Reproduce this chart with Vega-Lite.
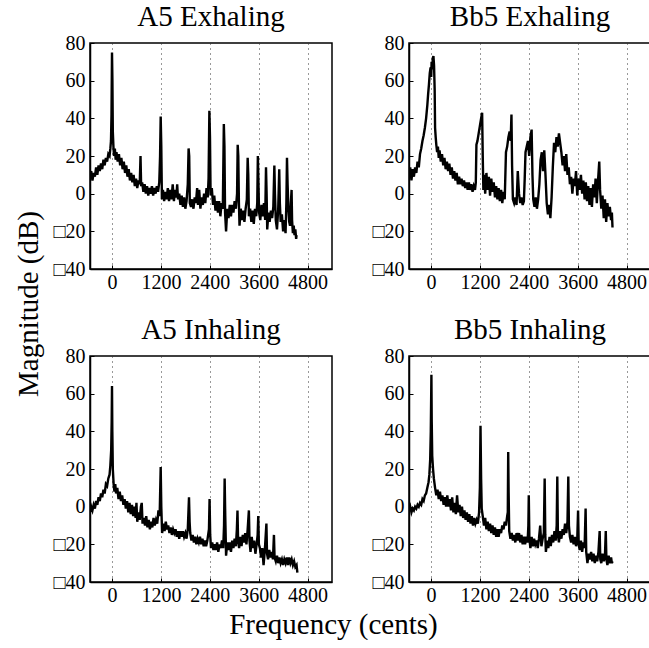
{
  "$schema": "https://vega.github.io/schema/vega-lite/v6.json",
  "background": "white",
  "padding": {"left": 15, "top": 2, "right": 0, "bottom": 0},
  "config": {
    "font": "Liberation Serif",
    "view": {"stroke": "black", "strokeWidth": 1.5},
    "axis": {"labelFont": "Liberation Serif", "labelFontSize": 20, "labelColor": "black", "domainColor": "black", "domainWidth": 1.5, "tickColor": "black", "tickSize": -4, "tickWidth": 1, "ticks": true, "labelPadding": 9, "labelFlush": false, "labelOverlap": false},
    "axisX": {"grid": true, "gridColor": "#333333", "gridDash": [1, 4], "gridWidth": 1, "labelPadding": 7, "format": "d"},
    "axisY": {"grid": false},
    "title": {"font": "Liberation Serif", "fontSize": 29, "fontWeight": "normal", "color": "black", "anchor": "middle", "offset": 1},
    "concat": {"spacing": 40}
  },
  "title": {"text": "Frequency (cents)", "orient": "bottom", "anchor": "middle", "fontSize": 29, "offset": 5},
  "datasets": {
    "ae": [
      {"c":-540,"m":8},{"c":-510,"m":12},{"c":-480,"m":7},{"c":-450,"m":11},{"c":-420,"m":9},{"c":-390,"m":14},{"c":-360,"m":10},{"c":-330,"m":15},{"c":-300,"m":12},{"c":-270,"m":16},{"c":-240,"m":13},{"c":-210,"m":18},{"c":-180,"m":15},{"c":-150,"m":19},{"c":-120,"m":17},{"c":-90,"m":21},{"c":-60,"m":20},{"c":-40,"m":24},{"c":-25,"m":28},{"c":-12,"m":42},{"c":0,"m":75},{"c":10,"m":60},{"c":20,"m":33},{"c":35,"m":25},{"c":50,"m":20},{"c":70,"m":24},{"c":90,"m":18},{"c":110,"m":22},{"c":140,"m":17},{"c":170,"m":21},{"c":200,"m":15},{"c":230,"m":19},{"c":260,"m":13},{"c":290,"m":17},{"c":320,"m":11},{"c":350,"m":15},{"c":380,"m":9},{"c":410,"m":13},{"c":440,"m":7},{"c":470,"m":11},{"c":500,"m":6},{"c":530,"m":10},{"c":560,"m":4},{"c":590,"m":8},{"c":620,"m":3},{"c":650,"m":7},{"c":680,"m":5},{"c":700,"m":20},{"c":715,"m":4},{"c":740,"m":6},{"c":770,"m":1},{"c":800,"m":5},{"c":830,"m":0},{"c":860,"m":4},{"c":890,"m":-1},{"c":920,"m":3},{"c":950,"m":0},{"c":980,"m":4},{"c":1010,"m":-1},{"c":1040,"m":3},{"c":1070,"m":0},{"c":1100,"m":4},{"c":1130,"m":1},{"c":1160,"m":6},{"c":1180,"m":20},{"c":1195,"m":41},{"c":1210,"m":25},{"c":1225,"m":-3},{"c":1250,"m":2},{"c":1280,"m":-4},{"c":1310,"m":1},{"c":1340,"m":-3},{"c":1370,"m":3},{"c":1400,"m":-4},{"c":1430,"m":2},{"c":1460,"m":-3},{"c":1490,"m":5},{"c":1520,"m":-4},{"c":1550,"m":2},{"c":1580,"m":-2},{"c":1600,"m":5},{"c":1620,"m":-3},{"c":1650,"m":0},{"c":1680,"m":-6},{"c":1710,"m":-1},{"c":1740,"m":-7},{"c":1770,"m":-2},{"c":1800,"m":-8},{"c":1830,"m":-4},{"c":1860,"m":5},{"c":1880,"m":24},{"c":1895,"m":20},{"c":1910,"m":-5},{"c":1940,"m":-7},{"c":1970,"m":-3},{"c":2000,"m":-8},{"c":2030,"m":-2},{"c":2060,"m":-5},{"c":2090,"m":3},{"c":2110,"m":-6},{"c":2140,"m":2},{"c":2170,"m":-8},{"c":2200,"m":-2},{"c":2230,"m":-6},{"c":2260,"m":0},{"c":2290,"m":-5},{"c":2320,"m":3},{"c":2350,"m":-2},{"c":2370,"m":8},{"c":2390,"m":44},{"c":2405,"m":30},{"c":2420,"m":-1},{"c":2450,"m":3},{"c":2480,"m":-6},{"c":2510,"m":-1},{"c":2540,"m":-9},{"c":2570,"m":-4},{"c":2600,"m":-10},{"c":2630,"m":-4},{"c":2660,"m":-12},{"c":2690,"m":-5},{"c":2720,"m":-8},{"c":2745,"m":37},{"c":2760,"m":25},{"c":2775,"m":-10},{"c":2800,"m":-20},{"c":2830,"m":-8},{"c":2860,"m":-13},{"c":2890,"m":-6},{"c":2920,"m":-12},{"c":2950,"m":-6},{"c":2980,"m":-10},{"c":3010,"m":-4},{"c":3040,"m":-8},{"c":3070,"m":0},{"c":3085,"m":26},{"c":3100,"m":20},{"c":3115,"m":-5},{"c":3130,"m":-17},{"c":3160,"m":-8},{"c":3190,"m":-14},{"c":3220,"m":-9},{"c":3250,"m":-15},{"c":3280,"m":-8},{"c":3310,"m":-3},{"c":3330,"m":19},{"c":3345,"m":10},{"c":3360,"m":-12},{"c":3390,"m":-8},{"c":3420,"m":-15},{"c":3450,"m":-9},{"c":3480,"m":-16},{"c":3510,"m":-8},{"c":3540,"m":-12},{"c":3565,"m":-5},{"c":3580,"m":20},{"c":3595,"m":5},{"c":3610,"m":-10},{"c":3640,"m":-14},{"c":3670,"m":-6},{"c":3700,"m":-12},{"c":3730,"m":-5},{"c":3760,"m":-14},{"c":3780,"m":14},{"c":3795,"m":0},{"c":3810,"m":-19},{"c":3840,"m":-10},{"c":3870,"m":-15},{"c":3900,"m":-9},{"c":3930,"m":-13},{"c":3960,"m":-7},{"c":3985,"m":15},{"c":4000,"m":0},{"c":4020,"m":-14},{"c":4050,"m":-19},{"c":4080,"m":-8},{"c":4105,"m":13},{"c":4120,"m":-5},{"c":4140,"m":-15},{"c":4170,"m":-11},{"c":4200,"m":-20},{"c":4230,"m":-14},{"c":4260,"m":-21},{"c":4280,"m":-5},{"c":4295,"m":19},{"c":4310,"m":5},{"c":4330,"m":-8},{"c":4350,"m":-15},{"c":4370,"m":-17},{"c":4390,"m":-5},{"c":4408,"m":2},{"c":4420,"m":-14},{"c":4440,"m":-21},{"c":4460,"m":-17},{"c":4480,"m":-22},{"c":4500,"m":-19},{"c":4520,"m":-24},{"c":4530,"m":-22}
    ],
    "be": [
      {"c":-540,"m":9},{"c":-510,"m":14},{"c":-480,"m":7},{"c":-450,"m":13},{"c":-420,"m":9},{"c":-390,"m":14},{"c":-360,"m":11},{"c":-330,"m":17},{"c":-300,"m":14},{"c":-270,"m":21},{"c":-240,"m":24},{"c":-210,"m":28},{"c":-180,"m":31},{"c":-150,"m":35},{"c":-120,"m":40},{"c":-90,"m":47},{"c":-70,"m":53},{"c":-50,"m":58},{"c":-30,"m":64},{"c":-10,"m":67},{"c":5,"m":62},{"c":15,"m":70},{"c":30,"m":66},{"c":45,"m":72},{"c":60,"m":73},{"c":75,"m":68},{"c":90,"m":55},{"c":100,"m":35},{"c":115,"m":30},{"c":130,"m":26},{"c":150,"m":22},{"c":170,"m":25},{"c":190,"m":19},{"c":210,"m":23},{"c":240,"m":17},{"c":270,"m":21},{"c":300,"m":15},{"c":330,"m":19},{"c":360,"m":13},{"c":390,"m":17},{"c":420,"m":12},{"c":450,"m":16},{"c":480,"m":10},{"c":510,"m":14},{"c":540,"m":8},{"c":570,"m":12},{"c":600,"m":7},{"c":630,"m":11},{"c":660,"m":5},{"c":690,"m":9},{"c":720,"m":5},{"c":750,"m":8},{"c":780,"m":4},{"c":810,"m":7},{"c":840,"m":3},{"c":870,"m":6},{"c":900,"m":2},{"c":930,"m":6},{"c":960,"m":2},{"c":990,"m":5},{"c":1020,"m":1},{"c":1050,"m":4},{"c":1080,"m":2},{"c":1100,"m":6},{"c":1115,"m":26},{"c":1140,"m":28},{"c":1170,"m":32},{"c":1200,"m":36},{"c":1230,"m":40},{"c":1255,"m":43},{"c":1270,"m":20},{"c":1285,"m":2},{"c":1310,"m":10},{"c":1330,"m":0},{"c":1360,"m":11},{"c":1390,"m":2},{"c":1420,"m":9},{"c":1450,"m":-1},{"c":1480,"m":8},{"c":1510,"m":1},{"c":1540,"m":6},{"c":1570,"m":-2},{"c":1600,"m":4},{"c":1630,"m":-3},{"c":1660,"m":3},{"c":1690,"m":-4},{"c":1720,"m":2},{"c":1750,"m":-5},{"c":1780,"m":1},{"c":1810,"m":-3},{"c":1840,"m":22},{"c":1870,"m":25},{"c":1900,"m":30},{"c":1930,"m":33},{"c":1955,"m":28},{"c":1975,"m":42},{"c":1990,"m":15},{"c":2010,"m":-3},{"c":2040,"m":-5},{"c":2070,"m":-2},{"c":2100,"m":-6},{"c":2130,"m":12},{"c":2160,"m":0},{"c":2190,"m":-5},{"c":2220,"m":-2},{"c":2250,"m":-6},{"c":2280,"m":-4},{"c":2300,"m":8},{"c":2320,"m":22},{"c":2350,"m":25},{"c":2380,"m":28},{"c":2410,"m":20},{"c":2440,"m":30},{"c":2470,"m":34},{"c":2490,"m":10},{"c":2510,"m":-3},{"c":2540,"m":-7},{"c":2570,"m":-2},{"c":2600,"m":-8},{"c":2630,"m":-3},{"c":2660,"m":5},{"c":2690,"m":18},{"c":2720,"m":22},{"c":2750,"m":12},{"c":2780,"m":23},{"c":2810,"m":10},{"c":2840,"m":-5},{"c":2870,"m":-11},{"c":2900,"m":-6},{"c":2930,"m":-13},{"c":2960,"m":-2},{"c":2990,"m":14},{"c":3020,"m":27},{"c":3050,"m":22},{"c":3080,"m":30},{"c":3110,"m":25},{"c":3140,"m":32},{"c":3170,"m":27},{"c":3200,"m":22},{"c":3230,"m":15},{"c":3260,"m":20},{"c":3290,"m":12},{"c":3320,"m":21},{"c":3350,"m":10},{"c":3380,"m":14},{"c":3410,"m":5},{"c":3440,"m":9},{"c":3470,"m":0},{"c":3500,"m":8},{"c":3530,"m":4},{"c":3560,"m":12},{"c":3590,"m":-1},{"c":3620,"m":8},{"c":3650,"m":2},{"c":3680,"m":10},{"c":3710,"m":0},{"c":3740,"m":7},{"c":3770,"m":-3},{"c":3800,"m":6},{"c":3830,"m":-4},{"c":3860,"m":4},{"c":3890,"m":-6},{"c":3920,"m":3},{"c":3950,"m":-7},{"c":3980,"m":5},{"c":4010,"m":-2},{"c":4040,"m":8},{"c":4070,"m":-5},{"c":4100,"m":7},{"c":4130,"m":17},{"c":4150,"m":2},{"c":4180,"m":-8},{"c":4210,"m":-1},{"c":4240,"m":-13},{"c":4270,"m":-3},{"c":4300,"m":-15},{"c":4330,"m":-5},{"c":4360,"m":-12},{"c":4390,"m":-7},{"c":4420,"m":-14},{"c":4440,"m":-10},{"c":4455,"m":-18}
    ],
    "ai": [
      {"c":-540,"m":-3},{"c":-510,"m":0},{"c":-480,"m":-2},{"c":-450,"m":1},{"c":-420,"m":-1},{"c":-390,"m":3},{"c":-360,"m":1},{"c":-330,"m":5},{"c":-300,"m":3},{"c":-270,"m":7},{"c":-240,"m":5},{"c":-210,"m":9},{"c":-180,"m":7},{"c":-150,"m":12},{"c":-120,"m":11},{"c":-90,"m":15},{"c":-60,"m":17},{"c":-40,"m":22},{"c":-20,"m":30},{"c":-8,"m":45},{"c":0,"m":64},{"c":8,"m":40},{"c":20,"m":20},{"c":40,"m":12},{"c":60,"m":8},{"c":80,"m":12},{"c":100,"m":7},{"c":130,"m":10},{"c":160,"m":4},{"c":190,"m":8},{"c":220,"m":3},{"c":250,"m":6},{"c":280,"m":1},{"c":310,"m":4},{"c":340,"m":-1},{"c":370,"m":3},{"c":400,"m":-3},{"c":430,"m":2},{"c":460,"m":-4},{"c":490,"m":1},{"c":520,"m":-5},{"c":550,"m":0},{"c":580,"m":-6},{"c":600,"m":2},{"c":620,"m":-8},{"c":650,"m":-3},{"c":680,"m":-7},{"c":710,"m":0},{"c":730,"m":2},{"c":750,"m":-9},{"c":780,"m":-6},{"c":810,"m":-10},{"c":840,"m":-5},{"c":870,"m":-11},{"c":900,"m":-7},{"c":930,"m":-12},{"c":960,"m":-8},{"c":990,"m":-11},{"c":1020,"m":-6},{"c":1050,"m":-10},{"c":1080,"m":-7},{"c":1110,"m":-9},{"c":1140,"m":-2},{"c":1170,"m":-5},{"c":1195,"m":21},{"c":1210,"m":0},{"c":1230,"m":-14},{"c":1260,"m":-9},{"c":1290,"m":-13},{"c":1320,"m":-8},{"c":1350,"m":-12},{"c":1380,"m":-10},{"c":1410,"m":-14},{"c":1440,"m":-11},{"c":1470,"m":-15},{"c":1500,"m":-12},{"c":1530,"m":-14},{"c":1560,"m":-12},{"c":1590,"m":-16},{"c":1620,"m":-13},{"c":1650,"m":-17},{"c":1680,"m":-13},{"c":1710,"m":-16},{"c":1740,"m":-13},{"c":1770,"m":-16},{"c":1800,"m":-14},{"c":1830,"m":-17},{"c":1860,"m":-12},{"c":1890,"m":5},{"c":1905,"m":-8},{"c":1920,"m":-14},{"c":1950,"m":-18},{"c":1980,"m":-15},{"c":2010,"m":-19},{"c":2040,"m":-16},{"c":2070,"m":-20},{"c":2100,"m":-17},{"c":2130,"m":-19},{"c":2160,"m":-16},{"c":2190,"m":-20},{"c":2220,"m":-17},{"c":2250,"m":-21},{"c":2280,"m":-18},{"c":2310,"m":-21},{"c":2340,"m":-18},{"c":2380,"m":-12},{"c":2395,"m":4},{"c":2410,"m":-15},{"c":2430,"m":-22},{"c":2460,"m":-19},{"c":2490,"m":-23},{"c":2520,"m":-20},{"c":2550,"m":-23},{"c":2580,"m":-19},{"c":2610,"m":-24},{"c":2640,"m":-20},{"c":2670,"m":-22},{"c":2700,"m":-18},{"c":2730,"m":-22},{"c":2750,"m":-10},{"c":2765,"m":15},{"c":2780,"m":-5},{"c":2800,"m":-26},{"c":2830,"m":-19},{"c":2860,"m":-23},{"c":2890,"m":-19},{"c":2920,"m":-24},{"c":2950,"m":-18},{"c":2980,"m":-22},{"c":3010,"m":-17},{"c":3040,"m":-21},{"c":3065,"m":-12},{"c":3080,"m":-2},{"c":3095,"m":-18},{"c":3120,"m":-22},{"c":3150,"m":-16},{"c":3180,"m":-21},{"c":3210,"m":-15},{"c":3240,"m":-19},{"c":3270,"m":-14},{"c":3300,"m":-20},{"c":3330,"m":-12},{"c":3360,"m":-2},{"c":3375,"m":-18},{"c":3400,"m":-24},{"c":3430,"m":-16},{"c":3460,"m":-22},{"c":3490,"m":-18},{"c":3520,"m":-25},{"c":3550,"m":-20},{"c":3575,"m":-15},{"c":3590,"m":-5},{"c":3605,"m":-20},{"c":3630,"m":-22},{"c":3660,"m":-27},{"c":3690,"m":-22},{"c":3720,"m":-31},{"c":3740,"m":-26},{"c":3760,"m":-20},{"c":3790,"m":-9},{"c":3805,"m":-25},{"c":3830,"m":-28},{"c":3860,"m":-23},{"c":3890,"m":-27},{"c":3920,"m":-24},{"c":3950,"m":-28},{"c":3975,"m":-15},{"c":3990,"m":-27},{"c":4020,"m":-29},{"c":4050,"m":-26},{"c":4080,"m":-30},{"c":4110,"m":-27},{"c":4140,"m":-30},{"c":4170,"m":-28},{"c":4200,"m":-31},{"c":4230,"m":-28},{"c":4260,"m":-30},{"c":4290,"m":-27},{"c":4320,"m":-31},{"c":4350,"m":-27},{"c":4380,"m":-30},{"c":4410,"m":-28},{"c":4440,"m":-31},{"c":4470,"m":-29},{"c":4500,"m":-32},{"c":4530,"m":-31},{"c":4550,"m":-35}
    ],
    "bi": [
      {"c":-540,"m":-2},{"c":-510,"m":0},{"c":-480,"m":-3},{"c":-450,"m":-1},{"c":-420,"m":-2},{"c":-390,"m":0},{"c":-360,"m":-1},{"c":-330,"m":1},{"c":-300,"m":0},{"c":-270,"m":2},{"c":-240,"m":1},{"c":-210,"m":4},{"c":-180,"m":3},{"c":-150,"m":6},{"c":-120,"m":7},{"c":-90,"m":10},{"c":-60,"m":13},{"c":-40,"m":17},{"c":-20,"m":25},{"c":-5,"m":40},{"c":5,"m":60},{"c":10,"m":70},{"c":18,"m":45},{"c":30,"m":27},{"c":50,"m":20},{"c":70,"m":15},{"c":100,"m":10},{"c":130,"m":6},{"c":160,"m":9},{"c":190,"m":4},{"c":220,"m":8},{"c":250,"m":3},{"c":280,"m":6},{"c":310,"m":1},{"c":340,"m":5},{"c":370,"m":0},{"c":400,"m":6},{"c":430,"m":0},{"c":460,"m":4},{"c":490,"m":-2},{"c":520,"m":5},{"c":550,"m":-3},{"c":580,"m":2},{"c":610,"m":-4},{"c":640,"m":6},{"c":670,"m":-3},{"c":700,"m":1},{"c":730,"m":-5},{"c":760,"m":0},{"c":790,"m":-6},{"c":820,"m":-2},{"c":850,"m":-7},{"c":880,"m":-3},{"c":910,"m":-8},{"c":940,"m":-4},{"c":970,"m":-9},{"c":1000,"m":-5},{"c":1030,"m":-10},{"c":1060,"m":-6},{"c":1090,"m":-9},{"c":1120,"m":-7},{"c":1150,"m":-9},{"c":1180,"m":-3},{"c":1200,"m":10},{"c":1215,"m":43},{"c":1230,"m":15},{"c":1245,"m":-1},{"c":1270,"m":-5},{"c":1300,"m":-10},{"c":1330,"m":-6},{"c":1360,"m":-12},{"c":1390,"m":-8},{"c":1420,"m":-13},{"c":1450,"m":-9},{"c":1480,"m":-14},{"c":1510,"m":-10},{"c":1540,"m":-15},{"c":1570,"m":-11},{"c":1600,"m":-16},{"c":1630,"m":-12},{"c":1660,"m":-16},{"c":1690,"m":-12},{"c":1720,"m":-14},{"c":1750,"m":-10},{"c":1780,"m":-12},{"c":1810,"m":-8},{"c":1840,"m":-10},{"c":1870,"m":-5},{"c":1885,"m":-3},{"c":1895,"m":29},{"c":1905,"m":8},{"c":1920,"m":-13},{"c":1950,"m":-17},{"c":1980,"m":-14},{"c":2010,"m":-18},{"c":2040,"m":-15},{"c":2070,"m":-19},{"c":2100,"m":-14},{"c":2130,"m":-18},{"c":2160,"m":-14},{"c":2190,"m":-19},{"c":2220,"m":-15},{"c":2250,"m":-20},{"c":2280,"m":-16},{"c":2310,"m":-20},{"c":2340,"m":-16},{"c":2370,"m":-19},{"c":2390,"m":-10},{"c":2400,"m":6},{"c":2415,"m":-17},{"c":2440,"m":-22},{"c":2470,"m":-16},{"c":2500,"m":-21},{"c":2530,"m":-17},{"c":2560,"m":-20},{"c":2590,"m":-18},{"c":2620,"m":-22},{"c":2650,"m":-17},{"c":2680,"m":-10},{"c":2710,"m":-21},{"c":2740,"m":-17},{"c":2770,"m":-14},{"c":2790,"m":15},{"c":2805,"m":-15},{"c":2820,"m":-24},{"c":2850,"m":-18},{"c":2880,"m":-22},{"c":2910,"m":-16},{"c":2940,"m":-21},{"c":2970,"m":-15},{"c":3000,"m":-19},{"c":3030,"m":-13},{"c":3060,"m":-18},{"c":3085,"m":-10},{"c":3100,"m":16},{"c":3115,"m":-15},{"c":3140,"m":-19},{"c":3170,"m":-13},{"c":3200,"m":-17},{"c":3230,"m":-12},{"c":3260,"m":-15},{"c":3290,"m":-9},{"c":3320,"m":-14},{"c":3350,"m":-8},{"c":3370,"m":16},{"c":3385,"m":-10},{"c":3410,"m":-16},{"c":3440,"m":-19},{"c":3470,"m":-15},{"c":3500,"m":-20},{"c":3530,"m":-16},{"c":3560,"m":-21},{"c":3590,"m":-17},{"c":3610,"m":-2},{"c":3625,"m":-20},{"c":3650,"m":-23},{"c":3680,"m":-18},{"c":3710,"m":-24},{"c":3740,"m":-19},{"c":3770,"m":-22},{"c":3795,"m":-1},{"c":3810,"m":-24},{"c":3840,"m":-30},{"c":3870,"m":-25},{"c":3900,"m":-28},{"c":3930,"m":-24},{"c":3960,"m":-29},{"c":3990,"m":-25},{"c":4020,"m":-30},{"c":4050,"m":-26},{"c":4080,"m":-29},{"c":4110,"m":-24},{"c":4140,"m":-13},{"c":4155,"m":-28},{"c":4180,"m":-30},{"c":4210,"m":-25},{"c":4240,"m":-29},{"c":4270,"m":-26},{"c":4290,"m":-13},{"c":4305,"m":-28},{"c":4330,"m":-31},{"c":4360,"m":-26},{"c":4390,"m":-30},{"c":4420,"m":-27},{"c":4440,"m":-30},{"c":4455,"m":-29}
    ]
  },
  "vconcat": [
    {
      "title": {"text": "Magnitude (dB)", "orient": "left", "anchor": "middle", "fontSize": 29, "offset": 8},
      "spacing": 22,
      "vconcat": [
        {
          "spacing": 38,
          "hconcat": [
            {
              "width": 242, "height": 226,
              "title": {"text": "A5 Exhaling"},
              "data": {"name": "ae"},
              "mark": {"type": "line", "color": "black", "strokeWidth": 2.4, "clip": true},
              "encoding": {
                "x": {"field": "c", "type": "quantitative", "scale": {"domain": [-540, 5400], "nice": false, "zero": false}, "axis": {"values": [0, 1200, 2400, 3600, 4800], "title": null}},
                "y": {"field": "m", "type": "quantitative", "scale": {"domain": [-40, 80], "nice": false, "zero": false}, "axis": {"values": [-40, -20, 0, 20, 40, 60, 80], "title": null, "labelExpr": "datum.value < 0 ? '□' + (-datum.value) : datum.label"}}
              }
            },
            {
              "width": 242, "height": 226,
              "title": {"text": "Bb5 Exhaling"},
              "data": {"name": "be"},
              "mark": {"type": "line", "color": "black", "strokeWidth": 2.4, "clip": true},
              "encoding": {
                "x": {"field": "c", "type": "quantitative", "scale": {"domain": [-540, 5400], "nice": false, "zero": false}, "axis": {"values": [0, 1200, 2400, 3600, 4800], "title": null}},
                "y": {"field": "m", "type": "quantitative", "scale": {"domain": [-40, 80], "nice": false, "zero": false}, "axis": {"values": [-40, -20, 0, 20, 40, 60, 80], "title": null, "labelExpr": "datum.value < 0 ? '□' + (-datum.value) : datum.label"}}
              }
            }
          ]
        },
        {
          "spacing": 38,
          "hconcat": [
            {
              "width": 242, "height": 226,
              "title": {"text": "A5 Inhaling"},
              "data": {"name": "ai"},
              "mark": {"type": "line", "color": "black", "strokeWidth": 2.4, "clip": true},
              "encoding": {
                "x": {"field": "c", "type": "quantitative", "scale": {"domain": [-540, 5400], "nice": false, "zero": false}, "axis": {"values": [0, 1200, 2400, 3600, 4800], "title": null}},
                "y": {"field": "m", "type": "quantitative", "scale": {"domain": [-40, 80], "nice": false, "zero": false}, "axis": {"values": [-40, -20, 0, 20, 40, 60, 80], "title": null, "labelExpr": "datum.value < 0 ? '□' + (-datum.value) : datum.label"}}
              }
            },
            {
              "width": 242, "height": 226,
              "title": {"text": "Bb5 Inhaling"},
              "data": {"name": "bi"},
              "mark": {"type": "line", "color": "black", "strokeWidth": 2.4, "clip": true},
              "encoding": {
                "x": {"field": "c", "type": "quantitative", "scale": {"domain": [-540, 5400], "nice": false, "zero": false}, "axis": {"values": [0, 1200, 2400, 3600, 4800], "title": null}},
                "y": {"field": "m", "type": "quantitative", "scale": {"domain": [-40, 80], "nice": false, "zero": false}, "axis": {"values": [-40, -20, 0, 20, 40, 60, 80], "title": null, "labelExpr": "datum.value < 0 ? '□' + (-datum.value) : datum.label"}}
              }
            }
          ]
        }
      ]
    }
  ]
}
